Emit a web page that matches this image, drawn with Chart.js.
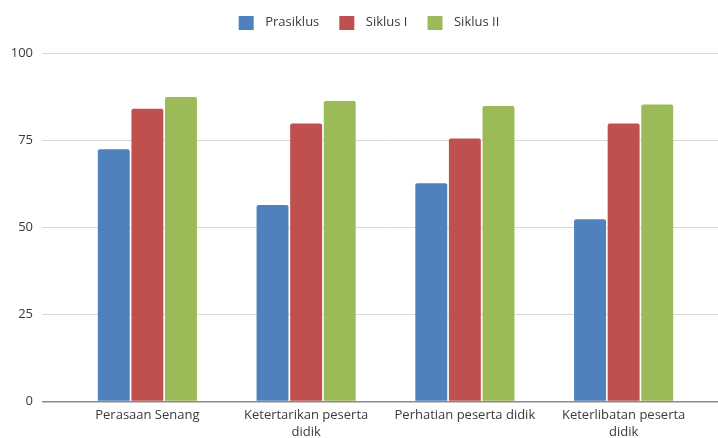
<!DOCTYPE html>
<html>
<head>
<meta charset="utf-8">
<title>Prasiklus, Siklus I, Siklus II</title>
<script src="https://cdn.jsdelivr.net/npm/chart.js@4/dist/chart.umd.min.js"></script>
<style>
  html, body { margin: 0; padding: 0; background: #ffffff; }
  canvas { display: block; }
</style>
</head>
<body>
<canvas id="chart" width="718" height="438"></canvas>
<script>
// Aspects observed in each cycle
const categories = [
  'Perasaan Senang',
  ['Ketertarikan peserta', 'didik'],
  'Perhatian peserta didik',
  ['Keterlibatan peserta', 'didik']
];

// Scores per cycle
const prasiklus = [72.4, 56.4, 62.6, 52.3];
const siklusI   = [84.0, 79.8, 75.5, 79.8];
const siklusII  = [87.4, 86.2, 84.8, 85.2];

// Series colours
const seriesColors = ['#4f81bd', '#c0504d', '#9bbb59'];

// Value axis
const yMin = 0;
const yMax = 100;
const yStep = 25;

const FONT = "'Open Sans', 'Liberation Sans', sans-serif";

const gridColor = (ctx) => (ctx.tick && ctx.tick.value === 0) ? '#8a8a8a' : '#d9d9d9';
const gridWidth = (ctx) => (ctx.tick && ctx.tick.value === 0) ? 1.5 : 1;

// Legend swatch: a 15x14 square with some clear space on both sides
function makeSwatch(color) {
  const c = document.createElement('canvas');
  c.width = 24; c.height = 14;
  const g = c.getContext('2d');
  g.fillStyle = color;
  g.fillRect(4, 0, 15, 14);
  return c;
}
const swatches = seriesColors.map(makeSwatch);

// Extra room under the legend, and a small nudge of the legend to the right
const legendSpacing = {
  id: 'legendSpacing',
  afterInit(chart) {
    const lg = chart.legend;
    if (!lg) return;
    const fit = lg.fit;
    lg.fit = function () {
      fit.call(this);
      this.height += 14;
    };
  },
  afterLayout(chart) {
    if (!chart.legend) return;
    chart.legend.left += 8;
    chart.legend.right += 8;
  }
};

new Chart(document.getElementById('chart'), {
  type: 'bar',
  data: {
    labels: categories,
    datasets: [
      { label: 'Prasiklus', data: prasiklus, backgroundColor: seriesColors[0] },
      { label: 'Siklus I',  data: siklusI,   backgroundColor: seriesColors[1] },
      { label: 'Siklus II', data: siklusII,  backgroundColor: seriesColors[2] }
    ]
  },
  plugins: [legendSpacing],
  options: {
    responsive: false,
    animation: false,
    layout: { padding: { top: 0, left: 0, right: 0, bottom: 0 } },
    datasets: {
      bar: {
        categoryPercentage: 0.635,
        barPercentage: 0.95,
        borderRadius: { topLeft: 2, topRight: 2, bottomLeft: 0, bottomRight: 0 },
        borderSkipped: 'bottom'
      }
    },
    plugins: {
      legend: {
        position: 'top',
        labels: {
          usePointStyle: true,
          pointStyleWidth: 24,
          boxHeight: 14,
          padding: 16,
          color: '#3a3a3a',
          font: { family: FONT, size: 13 },
          generateLabels: (chart) => {
            const items = Chart.defaults.plugins.legend.labels.generateLabels(chart);
            items.forEach((it) => { it.pointStyle = swatches[it.datasetIndex]; });
            return items;
          }
        }
      },
      tooltip: { enabled: false }
    },
    scales: {
      x: {
        grid: { display: false, drawTicks: false },
        border: { display: false },
        ticks: {
          padding: 6,
          color: '#3a3a3a',
          font: { family: FONT, size: 13, lineHeight: 1.25 },
          maxRotation: 0,
          autoSkip: false
        },
        afterFit: (scale) => { scale.height = 36.5; }
      },
      y: {
        position: 'left',
        min: yMin,
        max: yMax,
        border: { display: false },
        grid: { color: gridColor, lineWidth: gridWidth, tickLength: 26, drawTicks: true },
        ticks: {
          stepSize: yStep,
          padding: 9,
          color: '#3a3a3a',
          font: { family: FONT, size: 13 }
        },
        afterFit: (scale) => { scale.width = 68; }
      },
      yRight: {
        position: 'right',
        min: yMin,
        max: yMax,
        border: { display: false },
        grid: { color: gridColor, lineWidth: gridWidth, tickLength: 15, drawTicks: true, drawOnChartArea: false },
        ticks: { stepSize: yStep, display: false },
        afterFit: (scale) => { scale.width = 15; }
      }
    }
  }
});
</script>
</body>
</html>
